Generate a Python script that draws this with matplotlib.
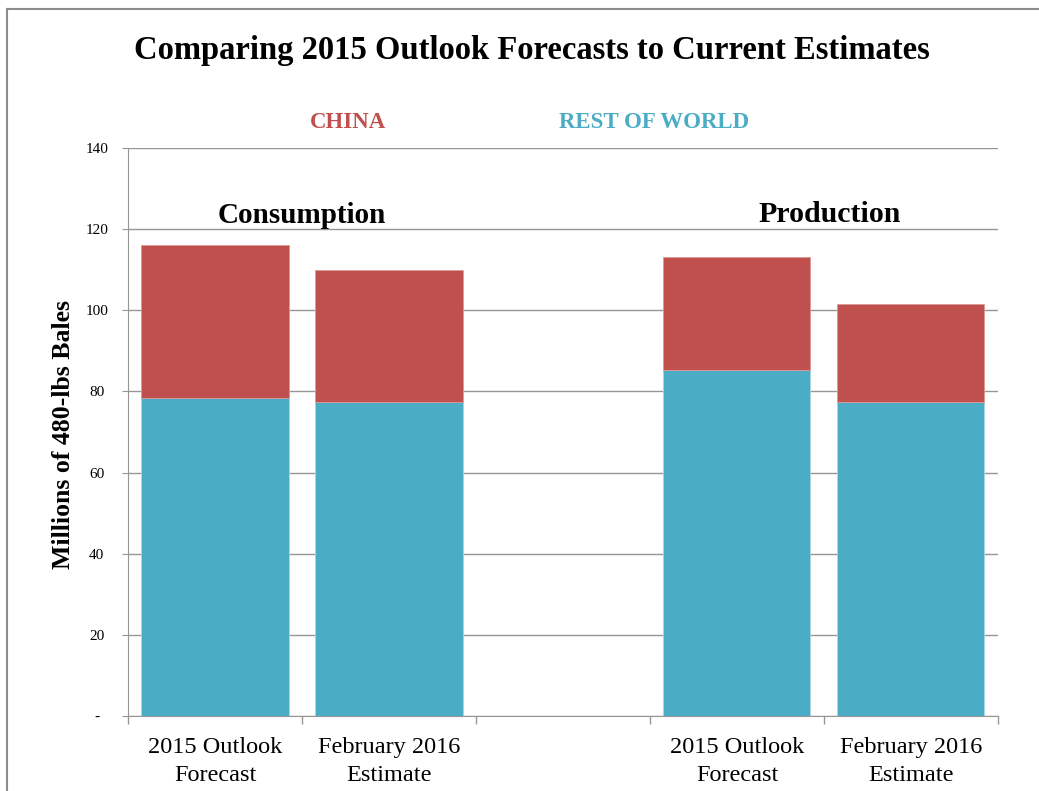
import numpy as np
import matplotlib.pyplot as plt
from matplotlib.lines import Line2D

plt.rcParams['font.family'] = ['Liberation Serif', 'DejaVu Serif']

# data (millions of 480-lb bales)
categories = ['2015 Outlook\nForecast', 'February 2016\nEstimate', '',
              '2015 Outlook\nForecast', 'February 2016\nEstimate']
rest_of_world = [78.5, 77.5, 0, 85.2, 77.5]
china = [37.7, 32.4, 0, 27.9, 24.0]

red = '#C0504D'
blue = '#4BACC6'
grey = '#969696'

fig = plt.figure(figsize=(10.39, 7.91), dpi=100)
ax = fig.add_axes([0.1232, 0.0948, 0.8373, 0.7181])

x = np.arange(len(categories))
ax.bar(x, rest_of_world, width=0.845, color=blue, edgecolor='#a8d6e3', linewidth=0.6, zorder=2)
ax.bar(x, china, width=0.845, bottom=rest_of_world, color=red, edgecolor='#dc9997', linewidth=0.6, zorder=2)

ax.set_xlim(-0.5, len(categories) - 0.5)
ax.set_ylim(0, 140)

# y axis
ax.set_yticks(np.arange(0, 141, 20))
ax.set_yticklabels(['-'] + [str(v) for v in range(20, 141, 20)], fontsize=11)
ax.yaxis.grid(True, color=grey, linewidth=1, zorder=0)
ax.tick_params(axis='y', length=4.5, color=grey, pad=18)
for lab in ax.get_yticklabels():
    lab.set_horizontalalignment('center')

# x axis: labels at centres, tick marks at boundaries
ax.set_xticks(x)
ax.set_xticklabels(categories, fontsize=17.5, linespacing=1.45)
ax.tick_params(axis='x', length=0, pad=15)
ax.set_xticks(np.arange(-0.5, len(categories), 1), minor=True)
ax.tick_params(axis='x', which='minor', length=6, color=grey, width=1)

for s in ['top', 'right']:
    ax.spines[s].set_visible(False)
ax.spines['left'].set_color(grey)
ax.spines['bottom'].set_color(grey)
ax.spines['bottom'].set_zorder(3)

ax.set_ylabel('Millions of 480-lbs Bales', fontsize=18.5, fontweight='bold', va='center')
ax.yaxis.set_label_coords(-0.0746, 0.495)

ax.text(0.5, 123.3, 'Consumption', ha='center', va='center', fontsize=21, fontweight='bold')
ax.text(3.53, 123.5, 'Production', ha='center', va='center', fontsize=21.5, fontweight='bold')

fig.text(0.512, 1 - 51 / 791, 'Comparing 2015 Outlook Forecasts to Current Estimates',
         ha='center', va='center', fontsize=23.5, fontweight='bold')
fig.text(348 / 1039, 1 - 122 / 791, 'CHINA', color=red, ha='center', va='center',
         fontsize=16.5, fontweight='bold')
fig.text(654 / 1039, 1 - 122 / 791, 'REST OF WORLD', color=blue, ha='center', va='center',
         fontsize=16.5, fontweight='bold')

# slide frame
fig.add_artist(Line2D([7 / 1039, 1], [1 - 9 / 791, 1 - 9 / 791], color='#8c8c8c', linewidth=1.5))
fig.add_artist(Line2D([7 / 1039, 7 / 1039], [0, 1 - 9 / 791], color='#8c8c8c', linewidth=1.5))

fig.savefig('out.png', dpi=100)
